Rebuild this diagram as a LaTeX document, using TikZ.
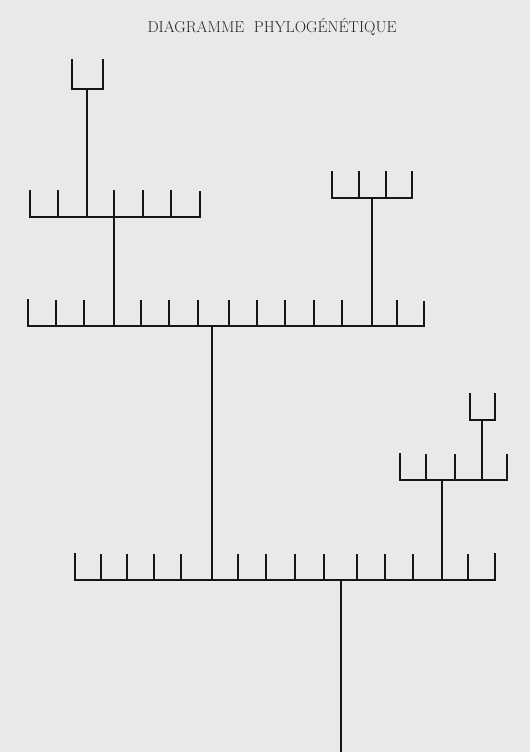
\documentclass[tikz,border=0pt]{standalone}
\usepackage{fontspec}
\usepackage{tikz}
\usetikzlibrary{calc}
\definecolor{paper}{RGB}{233,233,231}
\definecolor{ink}{RGB}{22,22,22}
\tikzset{
  branch/.style={draw=ink, line width=2.1pt, line join=miter},
  twig/.style={draw=ink, line width=2.1pt},
  titlelabel/.style={font=\fontsize{15.8}{18}\selectfont, text=black!85, inner sep=0pt},
}

\begin{document}
\begin{tikzpicture}[x=1pt, y=-1pt]
  \useasboundingbox (0,0) rectangle (530,752);
  \fill[paper] (0,0) rectangle (530,752);

  % Title
  \node[titlelabel] (title) at (272,27) {DIAGRAMME\ \ PHYLOGÉNÉTIQUE};

  % Named points: bar ends and stem feet
  \coordinate (root) at (341,752);
  \coordinate (cL) at (75,580);   \coordinate (cR) at (495,580);
  \coordinate (cDown) at (341,580);
  \coordinate (cToB) at (212,580); \coordinate (cToD) at (442,580);
  \coordinate (bL) at (28,326);   \coordinate (bR) at (424,326);
  \coordinate (bDown) at (212,326);
  \coordinate (bToA) at (114,326); \coordinate (bToF) at (372,326);
  \coordinate (aL) at (30,217);   \coordinate (aR) at (200,217);
  \coordinate (aDown) at (114,217); \coordinate (aToT) at (87,217);
  \coordinate (tL) at (72,89);    \coordinate (tR) at (103,89);
  \coordinate (tDown) at (87,89);
  \coordinate (fL) at (332,198);  \coordinate (fR) at (412,198);
  \coordinate (fDown) at (372,198);
  \coordinate (dL) at (400,480);  \coordinate (dR) at (507,480);
  \coordinate (dDown) at (442,480); \coordinate (dToS) at (482,480);
  \coordinate (sL) at (470,420);  \coordinate (sR) at (495,420);
  \coordinate (sDown) at (482,420);

  % Bars (end ticks included)
  \draw[branch] ($(cL)+(0,-27)$) -- (cL) -- (cR) -- ++(0,-27);
  \draw[branch] ($(bL)+(0,-27)$) -- (bL) -- (bR) -- ++(0,-25);
  \draw[branch] ($(aL)+(0,-27)$) -- (aL) -- (aR) -- ++(0,-26);
  \draw[branch] ($(tL)+(0,-30)$) -- (tL) -- (tR) -- ++(0,-30);
  \draw[branch] ($(fL)+(0,-27)$) -- (fL) -- (fR) -- ++(0,-27);
  \draw[branch] ($(dL)+(0,-27)$) -- (dL) -- (dR) -- ++(0,-26);
  \draw[branch] ($(sL)+(0,-27)$) -- (sL) -- (sR) -- ++(0,-27);

  % Inner ticks
  \foreach \x in {101,127,154,181,238,266,295,324,357,385,413,468}
    \draw[twig] (\x,580) -- ++(0,-26);
  \foreach \x in {56,84,141,169,198,229,257,285,314,342,397}
    \draw[twig] (\x,326) -- ++(0,-26);
  \foreach \x in {58,114,143,171}
    \draw[twig] (\x,217) -- ++(0,-27);
  \foreach \x in {359,386}
    \draw[twig] (\x,198) -- ++(0,-27);
  \foreach \x in {426,455}
    \draw[twig] (\x,480) -- ++(0,-26);

  % Stems
  \draw[branch] (root) -- (cDown);
  \draw[branch] (cToB) -- (bDown);
  \draw[branch] (cToD) -- (dDown);
  \draw[branch] (bToA) -- (aDown);
  \draw[branch] (bToF) -- (fDown);
  \draw[branch] (aToT) -- (tDown);
  \draw[branch] (dToS) -- (sDown);
\end{tikzpicture}
\end{document}
